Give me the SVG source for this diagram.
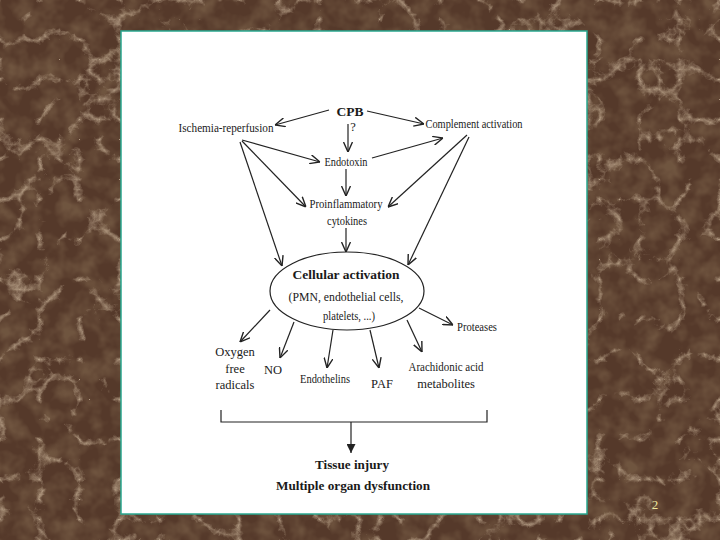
<svg xmlns="http://www.w3.org/2000/svg" width="720" height="540" viewBox="0 0 720 540">
<defs>
<style>
.t{font-family:"Liberation Serif","Times New Roman",serif;font-size:12.5px;fill:#1a1a1a;text-anchor:middle}
.b{font-weight:bold}
.c{stroke:#222;stroke-width:1.2;fill:none}
</style>
<marker id="v" viewBox="0 0 10 10" refX="10" refY="5" markerWidth="10" markerHeight="10" markerUnits="userSpaceOnUse" orient="auto">
<path d="M0,0.5 L10,5 L0,9.5" fill="none" stroke="#222" stroke-width="1.4"/>
</marker>
<marker id="f" viewBox="0 0 10 10" refX="10" refY="5" markerWidth="11" markerHeight="9" markerUnits="userSpaceOnUse" orient="auto">
<path d="M0,0 L10,5 L0,10 Z" fill="#222"/>
</marker>
<filter id="veins" x="0" y="0" width="100%" height="100%">
<feTurbulence type="turbulence" baseFrequency="0.025" numOctaves="5" seed="11"/>
<feColorMatrix type="matrix" values="0 0 0 0 0.66  0 0 0 0 0.52  0 0 0 0 0.37  -3.2 0 0 0 0.72"/>
</filter>
<filter id="dark" x="0" y="0" width="100%" height="100%">
<feTurbulence type="fractalNoise" baseFrequency="0.05" numOctaves="3" seed="2"/>
<feColorMatrix type="matrix" values="0 0 0 0 0.16  0 0 0 0 0.09  0 0 0 0 0.05  0 2.2 0 0 -0.8"/>
</filter>
</defs>
<g id="background">
<rect width="720" height="540" fill="#55392a"/>
<rect width="720" height="540" filter="url(#dark)"/>
<rect width="720" height="540" filter="url(#veins)"/>
</g>
<g id="panel">
<rect x="121" y="31" width="466" height="483" fill="#ffffff" stroke="#2aa890" stroke-width="1.5"/>
</g>
<g id="connectors">
<line class="c" x1="329" y1="110" x2="275" y2="125" marker-end="url(#v)"/>
<line class="c" x1="367" y1="111" x2="424" y2="124" marker-end="url(#v)"/>
<line class="c" x1="348" y1="124" x2="348" y2="152" stroke-width="0.8" marker-end="url(#v)"/>
<line class="c" x1="242" y1="140" x2="320" y2="162" marker-end="url(#v)"/>
<line class="c" x1="372" y1="158" x2="443" y2="138" marker-end="url(#v)"/>
<line class="c" x1="242" y1="141" x2="306" y2="207" marker-end="url(#v)"/>
<line class="c" x1="240" y1="142" x2="282" y2="266" marker-end="url(#v)"/>
<line class="c" x1="346" y1="169" x2="346" y2="196" stroke-width="0.8" marker-end="url(#v)"/>
<line class="c" x1="467" y1="135" x2="388" y2="207" marker-end="url(#v)"/>
<line class="c" x1="469" y1="137" x2="408" y2="265" marker-end="url(#v)"/>
<line class="c" x1="346" y1="228" x2="346" y2="252" stroke-width="0.8" marker-end="url(#v)"/>
<line class="c" x1="270" y1="310" x2="240" y2="342" marker-end="url(#v)"/>
<line class="c" x1="294" y1="322" x2="280" y2="358" marker-end="url(#v)"/>
<line class="c" x1="333" y1="330" x2="327" y2="368" marker-end="url(#v)"/>
<line class="c" x1="370" y1="330" x2="379" y2="368" marker-end="url(#v)"/>
<line class="c" x1="407" y1="320" x2="422" y2="352" marker-end="url(#v)"/>
<line class="c" x1="419" y1="308" x2="453" y2="325" marker-end="url(#v)"/>
<path class="c" d="M221,410 V422 H487 V410"/>
<line class="c" x1="351" y1="422" x2="351" y2="453" marker-end="url(#f)"/>
</g>
<g id="cpb"><text class="t b" x="350" y="116" font-size="17" textLength="27" lengthAdjust="spacingAndGlyphs">CPB</text>
<text class="t" x="353" y="131" font-size="9">?</text></g>
<g id="ischemia"><text class="t" x="226" y="132" textLength="95" lengthAdjust="spacingAndGlyphs">Ischemia-reperfusion</text></g>
<g id="complement"><text class="t" x="474" y="128" textLength="97" lengthAdjust="spacingAndGlyphs">Complement activation</text></g>
<g id="endotoxin"><text class="t" x="346" y="166" textLength="43" lengthAdjust="spacingAndGlyphs">Endotoxin</text></g>
<g id="proinflammatory"><text class="t" x="346" y="208" textLength="73" lengthAdjust="spacingAndGlyphs">Proinflammatory</text>
<text class="t" x="347" y="225" textLength="40" lengthAdjust="spacingAndGlyphs">cytokines</text></g>
<g id="cellular">
<ellipse cx="347" cy="291" rx="77" ry="39" fill="none" stroke="#222" stroke-width="1.2"/>
<text class="t b" x="346" y="279" font-size="13" textLength="107" lengthAdjust="spacingAndGlyphs">Cellular activation</text>
<text class="t" x="346" y="301" textLength="115" lengthAdjust="spacingAndGlyphs">(PMN, endothelial cells,</text>
<text class="t" x="349" y="320" textLength="52" lengthAdjust="spacingAndGlyphs">platelets, ...)</text>
</g>
<g id="oxygen"><text class="t" x="235" y="356">Oxygen</text><text class="t" x="235" y="373">free</text><text class="t" x="235" y="389">radicals</text></g>
<g id="no"><text class="t" x="273" y="374">NO</text></g>
<g id="endothelins"><text class="t" x="325" y="383" textLength="50" lengthAdjust="spacingAndGlyphs">Endothelins</text></g>
<g id="paf"><text class="t" x="382" y="388">PAF</text></g>
<g id="arachidonic"><text class="t" x="446" y="371" textLength="75" lengthAdjust="spacingAndGlyphs">Arachidonic acid</text><text class="t" x="446" y="388">metabolites</text></g>
<g id="proteases"><text class="t" x="477" y="331" textLength="40" lengthAdjust="spacingAndGlyphs">Proteases</text></g>
<g id="outcome"><text class="t b" x="352" y="469" font-size="13.5" textLength="74" lengthAdjust="spacingAndGlyphs">Tissue injury</text>
<text class="t b" x="353" y="490" font-size="13.5" textLength="154" lengthAdjust="spacingAndGlyphs">Multiple organ dysfunction</text></g>
<g id="slide-number"><text x="655" y="509" font-family="Liberation Serif, serif" font-size="13" fill="#efe7a0" text-anchor="middle">2</text></g>
</svg>
